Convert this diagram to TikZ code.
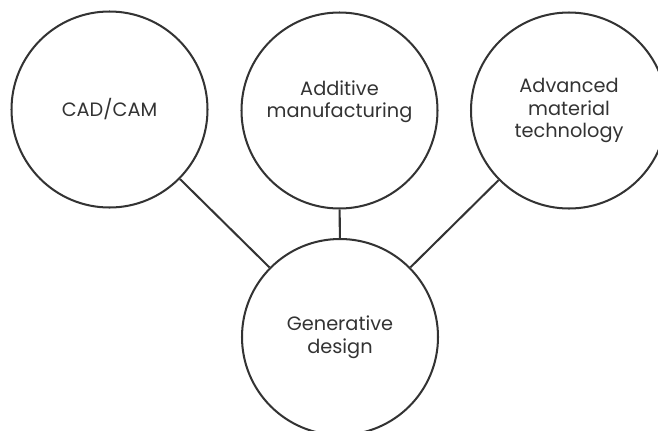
\documentclass[tikz,border=0pt]{standalone}
\usepackage{fontspec}
\setmainfont{Poppins}
\definecolor{ink}{HTML}{333333}
\tikzset{bubble/.style={circle,draw=ink,line width=1.15pt,minimum size=3.92cm,align=center,text=ink,font=\fontsize{11}{13}\selectfont},
  link/.style={draw=ink,line width=1.15pt}}
\begin{document}
\begin{tikzpicture}
    \useasboundingbox (0,0) rectangle (13.16,-8.6);
    \node[bubble] (cad) at (2.19,-2.19) {CAD/CAM};
    \node[bubble] (am) at (6.79,-2.21) {Additive\\manufacturing\\~};
    \node[bubble] (amt) at (11.38,-2.21) {Advanced\\material\\technology};
    \node[bubble] (gd) at (6.8,-6.74) {Generative\\design};
    \draw[link] (cad)--(gd); \draw[link] (am)--(gd); \draw[link] (amt)--(gd);
\end{tikzpicture}
\end{document}
